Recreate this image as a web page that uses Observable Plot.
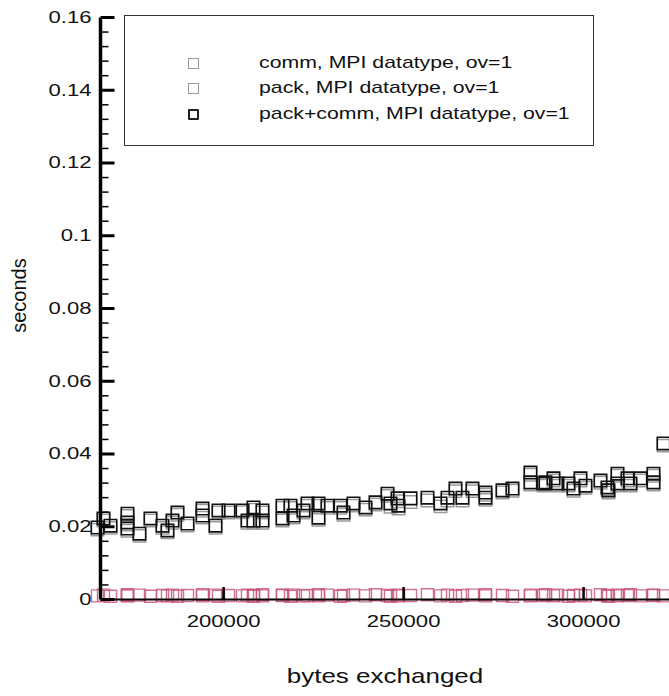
<!DOCTYPE html>
<html>
<head>
<meta charset="utf-8">
<script src="https://cdn.jsdelivr.net/npm/d3@7"></script>
<script src="https://cdn.jsdelivr.net/npm/@observablehq/plot@0.6"></script>
<style>
  body { margin: 0; }
  #legend { position: absolute; left: 124px; top: 15px; width: 468px; height: 129px; border: 1.5px solid #333; background: #fff; font-family: "Liberation Sans", Arial, sans-serif; }
  .lrow { position: absolute; left: 0; height: 24px; width: 100%; }
  .lsym { position: absolute; left: 63px; top: 6px; width: 11px; height: 11px; box-sizing: border-box; }
  .llab { position: absolute; left: 134px; top: 0; font-size: 17px; line-height: 22px; color: #111; white-space: nowrap; transform: scaleX(1.25); transform-origin: left center; }
</style>
</head>
<body>
<div id="wrap"></div>
<script>
// ---- data ----
const seriesNames = ["comm, MPI datatype, ov=1", "pack, MPI datatype, ov=1", "pack+comm, MPI datatype, ov=1"];
const bytes = [164970,166630,168580,173300,173300,173300,176630,179690,183020,184410,
  185800,187190,189970,194140,194140,197750,198580,201360,205250,206640,
  208300,208300,210800,210800,216360,216360,218580,219420,222190,223310,
  226360,226360,228860,232470,233310,236080,239420,242200,245530,246360,
  248310,248580,251920,256640,260250,262200,264420,266360,269140,272750,
  272750,277480,280250,285250,285250,288870,289420,291640,292750,295810,
  297200,299140,300530,304700,306640,306920,309420,309420,312200,313030,
  315810,319420,319420,322200];
const packComm = [0.0198,0.0223,0.0203,0.0236,0.0212,0.0195,0.0181,0.0223,0.0203,0.0190,
  0.0217,0.0239,0.0209,0.0250,0.0231,0.0203,0.0245,0.0245,0.0245,0.0217,
  0.0253,0.0217,0.0245,0.0217,0.0258,0.0223,0.0258,0.0231,0.0245,0.0264,
  0.0264,0.0225,0.0258,0.0258,0.0239,0.0264,0.0253,0.0267,0.0291,0.0264,
  0.0278,0.0258,0.0278,0.0280,0.0264,0.0280,0.0305,0.0280,0.0305,0.0294,
  0.0280,0.0300,0.0305,0.0349,0.0322,0.0319,0.0322,0.0333,0.0319,0.0319,
  0.0305,0.0333,0.0313,0.0327,0.0308,0.0300,0.0346,0.0319,0.0333,0.0319,
  0.0333,0.0346,0.0322,0.0429];
const comm = [0.0192,0.0217,0.0197,0.0230,0.0206,0.0189,0.0175,0.0217,0.0197,0.0185,
  0.0211,0.0233,0.0203,0.0244,0.0225,0.0197,0.0239,0.0239,0.0240,0.0211,
  0.0247,0.0211,0.0239,0.0211,0.0252,0.0217,0.0252,0.0225,0.0239,0.0258,
  0.0258,0.0219,0.0252,0.0252,0.0233,0.0258,0.0247,0.0261,0.0285,0.0255,
  0.0270,0.0250,0.0268,0.0272,0.0256,0.0272,0.0298,0.0272,0.0298,0.0288,
  0.0274,0.0294,0.0299,0.0343,0.0316,0.0313,0.0316,0.0327,0.0313,0.0313,
  0.0299,0.0327,0.0307,0.0321,0.0302,0.0294,0.0340,0.0313,0.0327,0.0313,
  0.0327,0.0340,0.0316,0.0423];
const pack = [0.0010,0.0012,0.0009,0.0011,0.0013,0.0010,0.0012,0.0009,0.0011,0.0010,
  0.0012,0.0009,0.0011,0.0013,0.0010,0.0012,0.0009,0.0011,0.0010,0.0012,
  0.0011,0.0009,0.0013,0.0010,0.0012,0.0011,0.0009,0.0012,0.0010,0.0011,
  0.0013,0.0010,0.0012,0.0009,0.0011,0.0012,0.0010,0.0013,0.0011,0.0009,
  0.0012,0.0010,0.0011,0.0013,0.0010,0.0012,0.0009,0.0011,0.0012,0.0010,
  0.0013,0.0011,0.0009,0.0012,0.0010,0.0011,0.0013,0.0010,0.0012,0.0009,
  0.0011,0.0012,0.0010,0.0013,0.0011,0.0009,0.0012,0.0010,0.0011,0.0013,
  0.0010,0.0012,0.0011,0.0010];
const yMajorTicks = [0, 0.02, 0.04, 0.06, 0.08, 0.1, 0.12, 0.14, 0.16];
const yMinorTicks = [0.004,0.008,0.012,0.016,0.024,0.028,0.032,0.036,0.044,0.048,0.052,0.056,
  0.064,0.068,0.072,0.076,0.084,0.088,0.092,0.096,0.104,0.108,0.112,0.116,
  0.124,0.128,0.132,0.136,0.144,0.148,0.152,0.156];
const xMajorTicks = [200000, 250000, 300000];
const xLabel = "bytes exchanged";
const yLabel = "seconds";

// ---- layout ----
const W = 669, H = 696;
const mL = 100, mR = 0, mT = 17, mB = 97;
const innerW = W - mL - mR, innerH = H - mT - mB;
const xDomain = [165800, 323870];
const yDomain = [0, 0.16];
const pxX = (xDomain[1] - xDomain[0]) / innerW;   // data units per pixel
const pxY = (yDomain[1] - yDomain[0]) / innerH;

const mk = (vals) => bytes.map((b, i) => ({x: b, y: vals[i]}));
const packPts = mk(pack), commPts = mk(comm), pcPts = mk(packComm);

const chart = Plot.plot({
  width: W, height: H,
  marginLeft: mL, marginRight: mR, marginTop: mT, marginBottom: mB,
  style: {fontFamily: "'Liberation Sans', Arial, sans-serif", color: "#111", background: "#fff"},
  x: {domain: xDomain, axis: null},
  y: {domain: yDomain, axis: null},
  marks: [
    Plot.dot(packPts, {x: "x", y: "y", symbol: "square", r: 6.8, stroke: "#c9587a", strokeOpacity: 0.85, strokeWidth: 1.4, fill: "none"}),
    Plot.dot(commPts, {x: "x", y: "y", symbol: "square", r: 7, stroke: "#9a9a9a", strokeWidth: 1.5, fill: "none"}),
    Plot.dot(pcPts, {x: "x", y: "y", symbol: "square", r: 7, stroke: "#111", strokeWidth: 1.6, fill: "none"}),
    Plot.axisY({ticks: yMajorTicks, tickSize: 0, tickPadding: 9, fontSize: 17, label: null,
      tickFormat: d => String(+d.toFixed(2))}),
    Plot.axisX({ticks: xMajorTicks, tickSize: 0, tickPadding: 15, fontSize: 17, label: null,
      tickFormat: d3.format("d")}),
    Plot.text([xLabel], {text: d => d, frameAnchor: "bottom", textAnchor: "middle", dy: 69, lineAnchor: "top", fontSize: 20, fill: "#111"}),
    Plot.text([yLabel], {text: d => d, frameAnchor: "left", textAnchor: "middle", rotate: -90, dx: -81, dy: -13, fontSize: 20, fill: "#111"}),
    // x axis line
    Plot.link([0], {x1: xDomain[0], x2: xDomain[1], y1: 0, y2: 0, stroke: "#000", strokeWidth: 2.2}),
    // y axis line
    Plot.link([0], {x1: xDomain[0], x2: xDomain[0], y1: yDomain[0], y2: yDomain[1], stroke: "#000", strokeWidth: 3.5}),
    // y major / minor ticks (pointing right, inside)
    Plot.link(yMajorTicks, {x1: xDomain[0], x2: xDomain[0] + 14 * pxX, y1: d => d, y2: d => d, stroke: "#000", strokeWidth: 3}),
    Plot.link(yMinorTicks, {x1: xDomain[0], x2: xDomain[0] + 8 * pxX, y1: d => d, y2: d => d, stroke: "#000", strokeWidth: 1.5}),
    // x major ticks (pointing up, inside)
    Plot.ruleX(xMajorTicks, {x: d => d, stroke: "#000", strokeWidth: 2.5, insetTop: innerH - 12})
  ]
});

// horizontal stretch of the scanned lettering
chart.querySelectorAll("text").forEach(t => {
  const tr = t.getAttribute("transform") || "";
  if (!tr.includes("rotate")) t.setAttribute("transform", tr + " scale(1.3,1)");
});

document.getElementById("wrap").appendChild(chart);

// legend overlay
const legend = document.createElement("div");
legend.id = "legend";
const symStyles = [
  "border:1.3px solid #9a9a9a;",
  "border:1.3px solid #9a9a9a;",
  "border:2px solid #222; border-radius:1px;"
];
const rowTops = [36, 61, 87];
seriesNames.forEach((name, i) => {
  const row = document.createElement("div");
  row.className = "lrow";
  row.style.top = rowTops[i] + "px";
  const s = document.createElement("div");
  s.className = "lsym";
  s.style.cssText = symStyles[i];
  const l = document.createElement("div");
  l.className = "llab";
  l.textContent = name;
  row.appendChild(s);
  row.appendChild(l);
  legend.appendChild(row);
});
document.body.appendChild(legend);
</script>
</body>
</html>
